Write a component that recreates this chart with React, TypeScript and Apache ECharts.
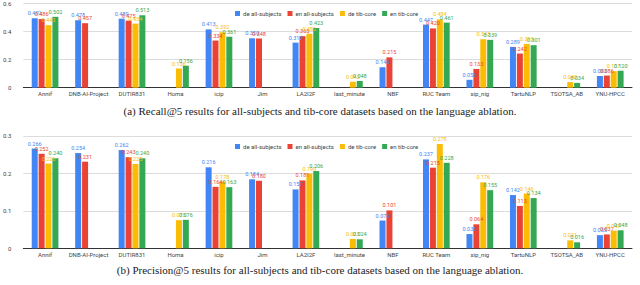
import React, { useEffect, useRef } from "react";
import * as echarts from "echarts";

const categories = [
  "Annif", "DNB-AI-Project", "DUTIR831", "Homa", "icip", "Jim", "LA2I2F",
  "last_minute", "NBF", "RUC Team", "sip_nig", "TartuNLP", "TSOTSA_AB", "YNU-HPCC",
];
const seriesNames = ["de all-subjects", "en all-subjects", "de tib-core", "en tib-core"];
const colors = ["#4285F4", "#EA4335", "#FBBC04", "#34A853"];

const recallDeAll = [0.492, 0.478, 0.489, null, 0.413, 0.350, 0.319, null, 0.145, 0.447, 0.056, 0.289, null, 0.083];
const recallEnAll = [0.486, 0.457, 0.475, null, 0.334, 0.348, 0.365, null, 0.215, 0.420, 0.133, 0.242, null, 0.086];
const recallDeTib = [0.443, null, 0.454, 0.136, 0.392, null, 0.382, 0.042, null, 0.484, 0.343, 0.310, 0.040, 0.117];
const recallEnTib = [0.502, null, 0.513, 0.156, 0.361, null, 0.423, 0.048, null, 0.461, 0.339, 0.301, 0.034, 0.120];

const precDeAll = [0.266, 0.254, 0.262, null, 0.216, 0.184, 0.157, null, 0.074, 0.237, 0.038, 0.142, null, 0.035];
const precEnAll = [0.252, 0.231, 0.243, null, 0.164, 0.180, 0.181, null, 0.101, 0.215, 0.064, 0.113, null, 0.037];
const precDeTib = [0.226, null, 0.225, 0.075, 0.178, null, 0.199, 0.025, null, 0.278, 0.176, 0.146, 0.021, 0.047];
const precEnTib = [0.240, null, 0.240, 0.076, 0.163, null, 0.206, 0.024, null, 0.228, 0.155, 0.134, 0.016, 0.048];

const recallTicks = { min: 0, max: 0.6, interval: 0.2 };
const precTicks = { min: 0, max: 0.3, interval: 0.1 };

const captionA = "(a) Recall@5 results for all-subjects and tib-core datasets based on the language ablation.";
const captionB = "(b) Precision@5 results for all-subjects and tib-core datasets based on the language ablation.";

export default function App() {
  const ref = useRef<HTMLDivElement>(null);
  useEffect(() => {
    if (!ref.current) return;
    const chart = echarts.init(ref.current, undefined, { renderer: "svg" });
    const recall = [recallDeAll, recallEnAll, recallDeTib, recallEnTib];
    const prec = [precDeAll, precEnAll, precDeTib, precEnTib];
    const mk = (data: (number | null)[], i: number, axis: number) => ({
      type: "bar",
      name: seriesNames[i],
      xAxisIndex: axis,
      yAxisIndex: axis,
      data,
      barWidth: 6,
      barGap: "15%",
      itemStyle: { color: colors[i] },
      label: {
        show: true,
        position: "top",
        distance: 2,
        fontSize: 5.5,
        color: colors[i],
        fontFamily: "Roboto",
        formatter: (p: any) => (p.value == null ? "" : Number(p.value).toFixed(3)),
      },
    });
    const xAxis = (gi: number) => ({
      type: "category",
      gridIndex: gi,
      data: categories,
      axisTick: { show: false },
      axisLine: { lineStyle: { color: "#333", width: 1 } },
      axisLabel: { fontSize: 6, color: "#444", margin: 3, interval: 0, fontFamily: "Roboto" },
    });
    const yAxis = (gi: number, t: any) => ({
      type: "value",
      gridIndex: gi,
      ...t,
      axisLine: { show: false },
      axisTick: { show: false },
      splitLine: { lineStyle: { color: "#dcdcdc", width: 1 } },
      axisLabel: { fontSize: 6, color: "#444", margin: 12, fontFamily: "Roboto" },
    });
    const legend = (top: number) => ({
      data: seriesNames,
      left: 230,
      top,
      icon: "rect",
      itemWidth: 5,
      itemHeight: 5,
      itemGap: 6,
      textStyle: { fontSize: 6, color: "#444", fontFamily: "Roboto", padding: [0, 0, 0, -2] },
    });
    chart.setOption({
      animation: false,
      color: colors,
      grid: [
        { left: 18, right: 8, top: 3, bottom: 197.3 },
        { left: 18, right: 8, top: 135.8, bottom: 36.7 },
      ],
      legend: [legend(5.5), legend(138.5)],
      xAxis: [xAxis(0), xAxis(1)],
      yAxis: [yAxis(0, recallTicks), yAxis(1, precTicks)],
      series: [
        ...recall.map((d, i) => mk(d, i, 0)),
        ...prec.map((d, i) => mk(d, i, 1)),
      ],
      graphic: [
        {
          type: "text",
          x: 320,
          y: 111,
          style: {
            text: captionA,
            fontSize: 11,
            fontFamily: "Liberation Serif",
            fill: "#222",
            align: "center",
            verticalAlign: "middle",
          },
        },
        {
          type: "text",
          x: 320,
          y: 270,
          style: {
            text: captionB,
            fontSize: 11,
            fontFamily: "Liberation Serif",
            fill: "#222",
            align: "center",
            verticalAlign: "middle",
          },
        },
      ],
    });
    return () => chart.dispose();
  }, []);
  return (
    <div
      ref={ref}
      style={{ position: "fixed", left: 0, top: 0, width: 640, height: 285, background: "#fff" }}
    />
  );
}
